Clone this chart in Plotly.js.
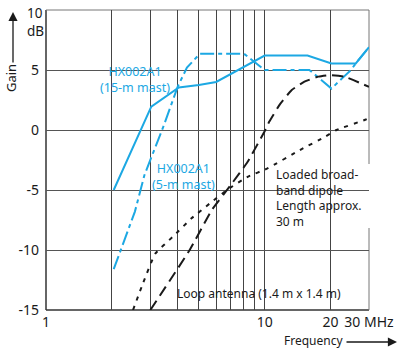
<!DOCTYPE html>
<html>
<head>
<meta charset="utf-8">
<script src="https://cdn.plot.ly/plotly-3.0.1.min.js"></script>
<style>
html,body{margin:0;padding:0;background:#fff;}
#chart{width:398px;height:350px;}
</style>
</head>
<body>
<div id="chart"></div>
<script>
// HX002A1 on 15-m mast (solid cyan)
var freq15 = [2.04, 3.03, 4.05, 5.0, 6.0, 10, 15.7, 20.2, 26.1, 30];
var gain15 = [-5, 1.95, 3.55, 3.75, 4.0, 6.2, 6.2, 5.55, 5.55, 6.9];

// HX002A1 on 5-m mast (dash-dot cyan)
var freq5 = [2.04, 2.55, 2.82, 3.46, 4.0, 4.41, 5.05, 8.05, 10, 16.0, 17.4, 20.2, 22.6, 24.8, 26.1, 30];
var gain5 = [-11.6, -6.8, -3.75, 0.4, 3.6, 5.2, 6.35, 6.35, 5.0, 5.0, 4.45, 3.45, 4.3, 5.0, 5.55, 6.9];

// Loop antenna 1.4 m x 1.4 m (long dash black)
var freqLoop = [3.0, 4.54, 5.73, 7.0, 8.36, 10, 10.5, 11.8, 13.3, 15.2, 17.6, 19.9, 23.1, 30];
var gainLoop = [-15, -10, -6.67, -4.58, -2.64, -0.1, 0.7, 2.2, 3.33, 4.03, 4.45, 4.58, 4.45, 3.6];

// Loaded broadband dipole, approx. 30 m (short dash black)
var freqDip = [2.5, 2.78, 3.16, 3.80, 4.63, 5.63, 6.72, 8.36, 10.3, 14.5, 18.9, 21.3, 28.6, 30];
var gainDip = [-15, -12.75, -10.3, -8.9, -7.36, -6.1, -5.0, -3.9, -3.2, -1.67, -0.56, 0, 0.83, 1.0];

// Axis ticks
var xTickVals = [1, 2, 3, 4, 5, 6, 7, 8, 9, 10, 20, 30];
var xTickText = ['1', '', '', '', '', '', '', '', '', '10', '20', '30 MHz'];
var yTickVals = [10, 5, 0, -5, -10, -15];
var yTickText = ['', '5', '0', '-5', '-10', '-15'];

var CYAN = '#1ca8e3';
var BLACK = '#1a1a1a';
var FONT = '"Noto Sans", Lato, sans-serif';

var traces = [
  {x: freq15, y: gain15, mode: 'lines', line: {color: CYAN, width: 2}, name: 'HX002A1 (15-m mast)'},
  {x: freq5, y: gain5, mode: 'lines', line: {color: CYAN, width: 2, dash: '14px,4px,4px,4px'}, name: 'HX002A1 (5-m mast)'},
  {x: freqLoop, y: gainLoop, mode: 'lines', line: {color: BLACK, width: 2, dash: '11px,6px', shape: 'spline', smoothing: 0.4}, name: 'Loop antenna'},
  {x: freqDip, y: gainDip, mode: 'lines', line: {color: BLACK, width: 2, dash: '4px,6px', shape: 'spline', smoothing: 0.4}, name: 'Loaded broadband dipole'}
];

// pixel helpers for layout placement (plot area 46..369 x 10..310)
function px(x){ return (x - 46) / 323; }
function py(y){ return (310 - y) / 300; }

function whiteBox(x0, y0, x1, y1){
  return {type: 'rect', xref: 'paper', yref: 'paper', x0: px(x0), x1: px(x1), y0: py(y1), y1: py(y0),
          fillcolor: '#fff', line: {width: 0}, layer: 'between'};
}
function frameLine(x0, y0, x1, y1, col, w){
  return {type: 'line', xref: 'paper', yref: 'paper', x0: x0, y0: y0, x1: x1, y1: y1,
          line: {color: col, width: w}, layer: 'between'};
}

var shapes = [
  frameLine(0, 0, 0, 1, '#333', 1.5),
  frameLine(0, 0, 1, 0, '#333', 1.5),
  frameLine(0, 1, 1, 1, '#777', 1),
  frameLine(1, 0, 1, 1, '#777', 1),
  whiteBox(102, 64, 168, 95),
  whiteBox(154, 160, 212, 193),
  whiteBox(268, 164, 373, 228),
  whiteBox(168, 284, 350, 303)
];

function txt(text, x, y, opts){
  var a = {text: text, xref: 'paper', yref: 'paper', x: px(x), y: py(y), showarrow: false,
           font: {family: FONT, size: 12, color: BLACK}, xanchor: 'center', yanchor: 'middle'};
  for (var k in (opts || {})) a[k] = opts[k];
  return a;
}

var annotations = [
  txt('HX002A1<br>(15-m mast)', 135, 79.5, {font: {family: FONT, size: 12.5, color: CYAN}}),
  txt('HX002A1<br>(5-m mast)', 183, 176.5, {font: {family: FONT, size: 12.5, color: CYAN}}),
  txt('Loaded broad-<br>band dipole<br>Length approx.<br>30 m', 274, 198, {xanchor: 'left', align: 'left', font: {family: FONT, size: 12, color: BLACK}}),
  txt('Loop antenna (1.4 m x 1.4 m)', 259, 293, {font: {family: FONT, size: 12, color: BLACK}}),
  txt('10<br>dB', 25, 21.5, {xanchor: 'left', align: 'left', font: {family: FONT, size: 13.5, color: BLACK}}),
  txt('Gain', 11, 78, {textangle: -90, font: {family: FONT, size: 13, color: BLACK}}),
  txt('Frequency', 313, 340, {font: {family: FONT, size: 12, color: BLACK}}),
  {text: '', xref: 'paper', yref: 'paper', x: px(397), y: py(342), ax: -52, ay: 0,
   showarrow: true, arrowhead: 2, arrowsize: 1.4, arrowwidth: 1.3, arrowcolor: BLACK},
  {text: '', xref: 'paper', yref: 'paper', x: px(13), y: py(12), ax: 0, ay: 52,
   showarrow: true, arrowhead: 2, arrowsize: 1.4, arrowwidth: 1.3, arrowcolor: BLACK}
];

var layout = {
  width: 398, height: 350,
  margin: {l: 46, r: 29, t: 10, b: 40, pad: 0},
  paper_bgcolor: '#fff', plot_bgcolor: '#fff',
  showlegend: false,
  font: {family: FONT, size: 14, color: BLACK},
  xaxis: {
    type: 'log', range: [0, Math.log10(30)],
    tickvals: xTickVals, ticktext: xTickText,
    showgrid: true, gridcolor: '#444', gridwidth: 1,
    zeroline: false, showline: false, ticks: '',
    tickfont: {family: FONT, size: 14, color: BLACK},
    ticklabelstandoff: 2
  },
  yaxis: {
    range: [-15, 10],
    tickvals: yTickVals, ticktext: yTickText,
    showgrid: true, gridcolor: '#555', gridwidth: 1,
    zeroline: false, showline: false, ticks: '',
    tickfont: {family: FONT, size: 14, color: BLACK},
    ticklabelstandoff: 6
  },
  shapes: shapes,
  annotations: annotations
};

Plotly.newPlot('chart', traces, layout, {displayModeBar: false, staticPlot: true});
</script>
</body>
</html>
